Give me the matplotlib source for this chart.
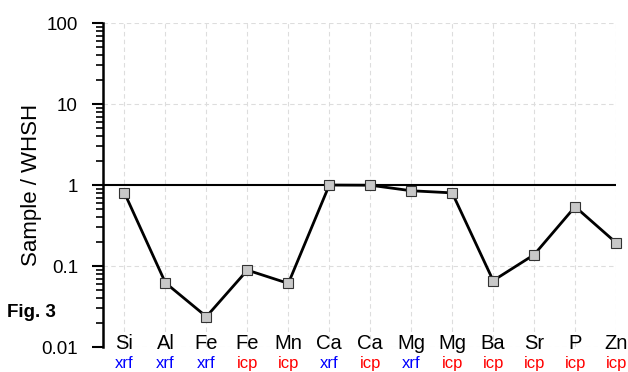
import numpy as np
import matplotlib
matplotlib.use("Agg")
import matplotlib.pyplot as plt
from matplotlib.ticker import LogLocator, NullFormatter, FixedLocator
import matplotlib.transforms as mtransforms

plt.rcParams['font.family'] = ['Liberation Sans', 'DejaVu Sans']

elements = ['Si', 'Al', 'Fe', 'Fe', 'Mn', 'Ca', 'Ca', 'Mg', 'Mg', 'Ba', 'Sr', 'P', 'Zn']
methods = ['xrf', 'xrf', 'xrf', 'icp', 'icp', 'xrf', 'icp', 'xrf', 'icp', 'icp', 'icp', 'icp', 'icp']
ratios = [0.80, 0.062, 0.0237, 0.089, 0.061, 1.0, 0.995, 0.85, 0.80, 0.066, 0.138, 0.54, 0.194]
method_colors = {'xrf': '#0000ff', 'icp': '#ff0000'}

x = np.arange(len(elements))

fig = plt.figure(figsize=(6.28, 3.72), dpi=100)
ax = fig.add_axes([0.164, 0.0672, 0.817, 0.8708])

ax.set_yscale('log')
ax.set_ylim(0.01, 100)
ax.set_xlim(-0.524, 12)

# grid
for xi in x:
    ax.axvline(xi, color='#dddddd', lw=0.8, ls=(0, (4, 3)), zorder=0)
for yv in [0.01, 0.1, 10, 100]:
    ax.axhline(yv, color='#dddddd', lw=0.8, ls=(0, (4, 3)), zorder=0)
ax.axhline(1, color='black', lw=1.5, zorder=1)

ax.plot(x, ratios, color='black', lw=2, marker='s', ms=7,
        markerfacecolor='#c8c8c8', markeredgecolor='#333333', markeredgewidth=0.8,
        zorder=3, clip_on=False)

for s in ['top', 'right', 'bottom']:
    ax.spines[s].set_visible(False)
ax.spines['left'].set_linewidth(1.8)

ax.yaxis.set_major_locator(FixedLocator([0.01, 0.1, 1, 10, 100]))
ax.set_yticklabels(['0.01', '0.1', '1', '10', '100'])
ax.yaxis.set_minor_locator(LogLocator(base=10, subs=np.arange(2, 10)))
ax.yaxis.set_minor_formatter(NullFormatter())
ax.tick_params(axis='y', which='major', length=8, width=1.5, labelsize=13.5, pad=10)
ax.tick_params(axis='y', which='minor', length=5, width=1.2)
ax.set_xticks([])

trans = mtransforms.blended_transform_factory(ax.transData, ax.transAxes)
for xi, el, m in zip(x, elements, methods):
    ax.text(xi, -0.006, el, transform=trans, ha='center', va='baseline', fontsize=14.5)
    ax.text(xi, -0.028, m, transform=trans, ha='center', va='top', fontsize=12,
            color=method_colors[m])

ax.set_ylabel('Sample / WHSH', fontsize=16)
ax.yaxis.set_label_coords(-0.119, 0.5)
fig.text(0.011, 0.161, 'Fig. 3', fontsize=13.5, fontweight='bold', va='center')

fig.savefig('out.png', dpi=100)
